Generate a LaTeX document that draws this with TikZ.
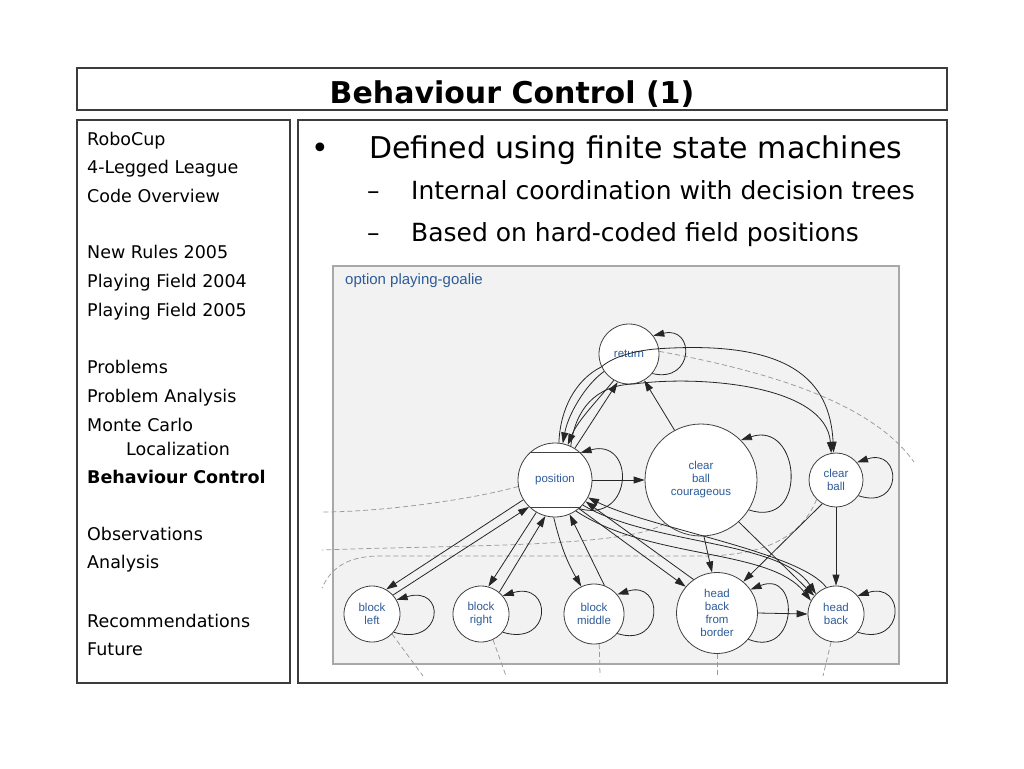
\documentclass[tikz,border=0pt]{standalone}
\usepackage{fontspec}
\setmainfont{DejaVu Sans}
\newfontfamily\diagfont{Liberation Sans}
\usetikzlibrary{arrows.meta}
\definecolor{framegray}{HTML}{3C3C3C}
\definecolor{panelgray}{HTML}{F2F2F2}
\definecolor{paneledge}{HTML}{A8A8A8}
\definecolor{statetext}{HTML}{2E5C99}
\definecolor{exitgray}{HTML}{9A9A9A}
\begin{document}
\begin{tikzpicture}[
        x = 1pt, y = 1pt,
        slidebox/.style = {draw = framegray, line width = 1.2pt},
        sidetext/.style = {anchor = base west, inner sep = 0, font = \fontsize{17.5}{20}\selectfont},
        bullettext/.style = {anchor = base west, inner sep = 0},
        fsmstate/.style = {circle, draw = black!75, fill = white, line width = .8pt, inner sep = 0,
            align = center, text = statetext, font = \diagfont\fontsize{11.5}{13}\selectfont},
        trans/.style = {draw = black!85, line width = .8pt, -{Triangle[length = 11pt, width = 7pt]}},
        exitline/.style = {draw = exitgray, line width = .75pt, dash pattern = on 5pt off 3pt}
    ]
        \useasboundingbox (0, 0) rectangle (1024, -768);
        \fill[white] (0, 0) rectangle (1024, -768);

        \draw[slidebox] (77, -68) rectangle (947, -110);
        \node[anchor = base, inner sep = 0, font = \bfseries\fontsize{30}{36}\selectfont] (title) at (512, -103) {Behaviour Control (1)};
        \draw[slidebox] (77, -120) rectangle (290, -683);
        \draw[slidebox] (298, -120) rectangle (947, -683);

        \foreach \y/\txt [count = \i] in {145/RoboCup, 173/4-Legged League, 202/Code Overview,
                258/New Rules 2005, 287/Playing Field 2004, 316/Playing Field 2005,
                373/Problems, 402/Problem Analysis, 431/Monte Carlo,
                540/Observations, 568/Analysis, 627/Recommendations, 655/Future}
            \node[sidetext] (side\i) at (87, -\y) {\txt};
        \node[sidetext] (sidemcl) at (126, -455) {Localization};
        \node[sidetext, font = \bfseries\fontsize{17.5}{20}\selectfont] (sidebc) at (87, -483) {Behaviour Control};

        \node[bullettext, font = \fontsize{30}{36}\selectfont] (dot) at (311, -158) {•};
        \node[bullettext, font = \fontsize{30}{36}\selectfont] (fsm) at (369, -158) {Defined using finite state machines};
        \node[bullettext, font = \fontsize{25}{30}\selectfont] (dasha) at (367, -199) {–};
        \node[bullettext, font = \fontsize{25}{30}\selectfont] (trees) at (411, -199) {Internal coordination with decision trees};
        \node[bullettext, font = \fontsize{25}{30}\selectfont] (dashb) at (367, -241) {–};
        \node[bullettext, font = \fontsize{25}{30}\selectfont] (field) at (411, -241) {Based on hard-coded field positions};

        \begin{scope}
            \draw[fill = panelgray, draw = paneledge, line width = 1.2pt] (333, -266) rectangle (899, -664);
            \node[anchor = base west, inner sep = 0, text = statetext, font = \diagfont\fontsize{15}{18}\selectfont] (option) at (345, -284) {option playing-goalie};

            \coordinate (outret) at (914, -462);
            \coordinate (outpos) at (322, -512);
            \coordinate (outcc) at (322, -550);
            \coordinate (outcb) at (322, -588);
            \coordinate (outbl) at (423, -676);
            \coordinate (outbr) at (506, -676);
            \coordinate (outbm) at (600, -676);
            \coordinate (outhf) at (717, -676);
            \coordinate (outhb) at (823, -676);

            \node[fsmstate, minimum size = 60] (ret) at (629, -354) {return};
            \node[fsmstate, minimum size = 74] (pos) at (555, -480) {position};
            \node[fsmstate, minimum size = 112] (ccour) at (701, -480) {clear\\ball\\courageous};
            \node[fsmstate, minimum size = 54] (cball) at (836, -480) {clear\\ball};
            \node[fsmstate, minimum size = 56] (bleft) at (372, -614) {block\\left};
            \node[fsmstate, minimum size = 56] (bright) at (481, -614) {block\\right};
            \node[fsmstate, minimum size = 60] (bmid) at (594, -614) {block\\middle};
            \node[fsmstate, minimum size = 81] (hbfb) at (717, -613) {head\\back\\from\\border};
            \node[fsmstate, minimum size = 56] (hback) at (836, -614) {head\\back};

            \draw[black!75, line width = .8pt] (pos.133) -- (pos.47) (pos.-133) -- (pos.-47);

            \draw[exitline] (ret.5) .. controls (760, -370) and (870, -400) .. (outret);
            \draw[exitline] (pos.190) .. controls (470, -500) and (380, -512) .. (outpos);
            \draw[exitline] (ccour.230) .. controls (630, -548) and (450, -545) .. (outcc);
            \draw[exitline] (cball.225) .. controls (800, -540) and (760, -556) .. (700, -556)
                -- (380, -556) .. controls (345, -556) and (330, -570) .. (outcb);
            \draw[exitline] (bleft.-45) -- (outbl);
            \draw[exitline] (bright.-65) -- (outbr);
            \draw[exitline] (bmid.-80) -- (outbm);
            \draw[exitline] (hbfb.south) -- (outhf);
            \draw[exitline] (hback.-100) -- (outhb);

            \draw[trans] (ret.-40) .. controls +(42, -10) and +(42, 10) .. (ret.37);
            \draw[trans] (pos.-50) .. controls +(55, -15) and +(55, 15) .. (pos.47);
            \draw[trans] (ccour.-32) .. controls +(60, -20) and +(60, 20) .. (ccour.45);
            \draw[trans] (cball.-35) .. controls +(45, -15) and +(45, 15) .. (cball.40);
            \draw[trans] (bleft.-40) .. controls +(50, -15) and +(50, 15) .. (bleft.30);
            \draw[trans] (bright.-40) .. controls +(50, -15) and +(50, 15) .. (bright.40);
            \draw[trans] (bmid.-40) .. controls +(47, -15) and +(47, 15) .. (bmid.40);
            \draw[trans] (hbfb.-40) .. controls +(50, -20) and +(50, 20) .. (hbfb.35);
            \draw[trans] (hback.-40) .. controls +(48, -15) and +(48, 15) .. (hback.40);

            \draw[trans] (pos.58) -- (ret.-112);
            \draw[trans] (ccour.118) -- (ret.-60);
            \draw[trans] (ret.215) .. controls (585, -385) and (568, -415) .. (pos.78);
            \draw[trans] (ret.240) .. controls (598, -400) and (578, -420) .. (pos.70);
            \draw[trans] (pos.84) .. controls (560, -410) and (575, -380) .. (ret.205)
                .. controls (615, -355) and (640, -350) .. (ret.10)
                .. controls (790, -340) and (830, -380) .. (cball.95);
            \draw[trans] (pos.65) .. controls (575, -410) and (595, -385) .. (ret.-80)
                .. controls (700, -375) and (826, -385) .. (cball.100);

            \draw[trans] (pos.east) -- (ccour.west);
            \draw[trans] (pos.212) -- (bleft.60);
            \draw[trans] (bleft.42) -- (pos.226);
            \draw[trans] (pos.240) -- (bright.75);
            \draw[trans] (bright.50) -- (pos.255);
            \draw[trans] (pos.268) to[bend right = 8] (bmid.115);
            \draw[trans] (bmid.70) -- (pos.293);
            \draw[trans] (pos.310) -- (hbfb.140);
            \draw[trans] (hbfb.125) -- (pos.325);
            \draw[trans] (pos.318) .. controls (650, -545) and (780, -540) .. (hback.135);
            \draw[trans] (pos.304) .. controls (650, -560) and (770, -548) .. (hback.152);
            \draw[trans] (hback.110) .. controls (800, -552) and (650, -528) .. (pos.332);
            \draw[trans] (ccour.-87) -- (hbfb.97);
            \draw[trans] (ccour.-48) -- (hback.140);
            \draw[trans] (cball.240) -- (hbfb.50);
            \draw[trans] (cball.south) -- (hback.north);
            \draw[trans] (hbfb.east) -- (hback.west);
        \end{scope}
    \end{tikzpicture}
\end{document}
